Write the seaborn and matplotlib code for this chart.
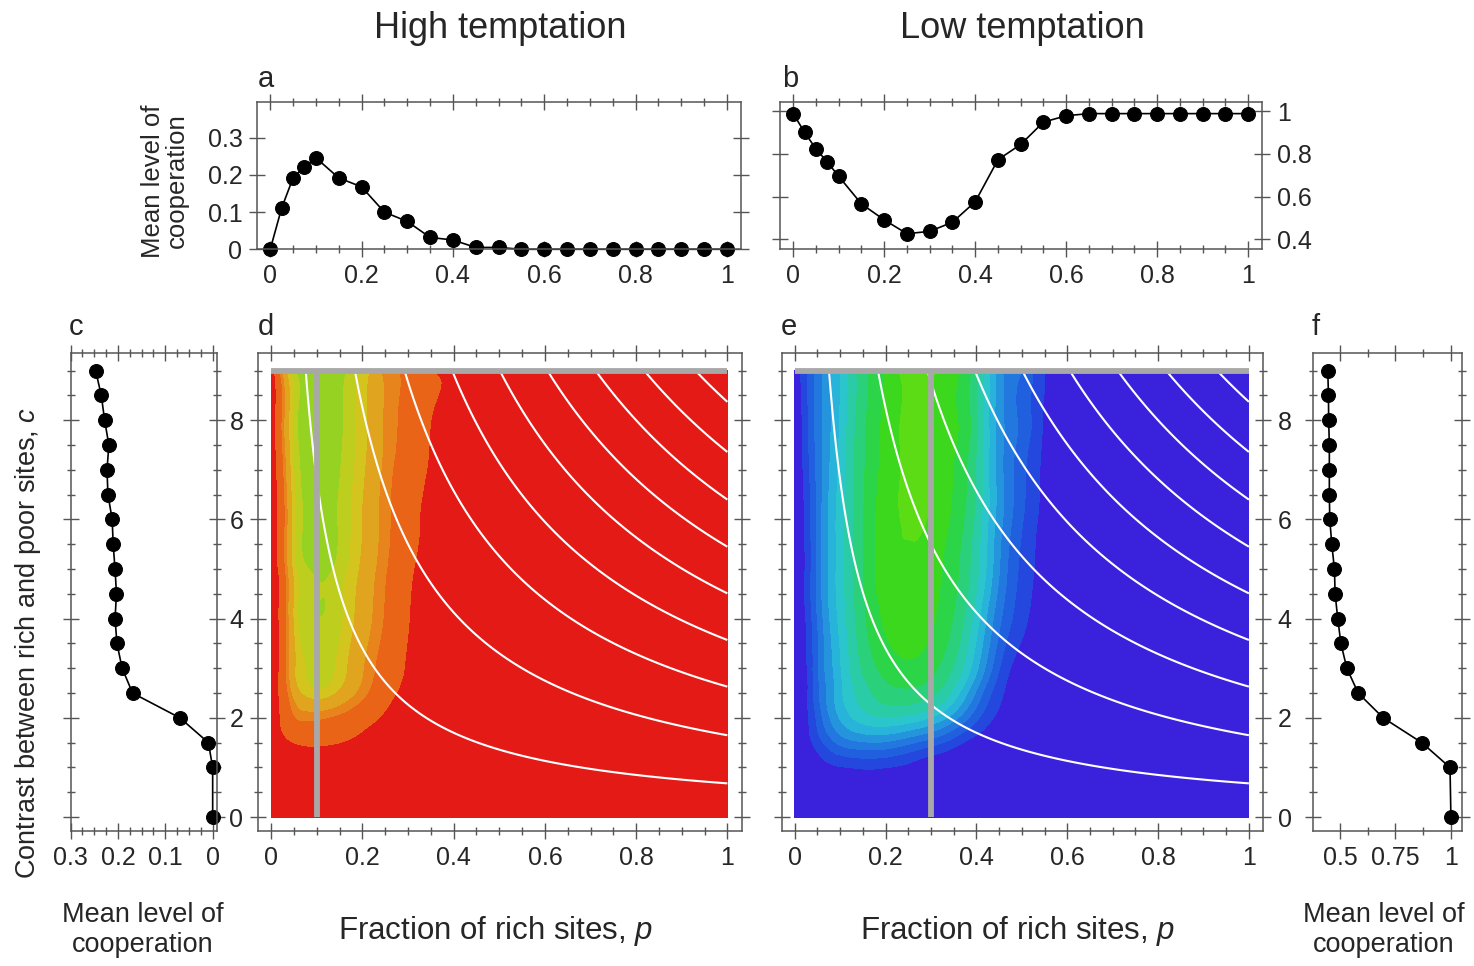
import numpy as np
import pandas as pd
import matplotlib
matplotlib.use("Agg")
import matplotlib.pyplot as plt
import matplotlib.tri as mtri
import seaborn as sns
from matplotlib.ticker import MultipleLocator, FixedLocator

# ------------------------------------------------------------------ data
# panel a / b : cooperation along the top transect (c = 9) versus p
p_top = [0, 0.025, 0.05, 0.075, 0.1, 0.15, 0.2, 0.25, 0.3, 0.35, 0.4, 0.45, 0.5,
         0.55, 0.6, 0.65, 0.7, 0.75, 0.8, 0.85, 0.9, 0.95, 1.0]
coop_a = [0, 0.111, 0.192, 0.222, 0.246, 0.192, 0.168, 0.100, 0.075, 0.032, 0.025,
          0.005, 0.005, 0, 0, 0, 0, 0, 0, 0, 0, 0, 0]
coop_b = [0.99, 0.902, 0.824, 0.762, 0.695, 0.565, 0.49, 0.425, 0.436, 0.479, 0.575,
          0.773, 0.845, 0.95, 0.98, 0.99, 0.99, 0.99, 0.99, 0.99, 0.99, 0.99, 0.99]

# panel c / f : cooperation along the vertical transect versus contrast c
c_side = [9, 8.5, 8, 7.5, 7, 6.5, 6, 5.5, 5, 4.5, 4, 3.5, 3, 2.5, 2, 1.5, 1, 0]
coop_c = [0.247, 0.235, 0.228, 0.219, 0.223, 0.221, 0.212, 0.210, 0.206, 0.203,
          0.206, 0.202, 0.191, 0.169, 0.069, 0.009, 0.0, 0.0]
coop_f = [0.445, 0.448, 0.449, 0.452, 0.452, 0.452, 0.454, 0.463, 0.475, 0.478,
          0.49, 0.504, 0.531, 0.582, 0.695, 0.869, 0.996, 1.0]

# transects (grey lines)
transect_c = 9.0
transect_p_d = 0.1
transect_p_e = 0.3

# panel d field (high temptation): rows = c, columns = p
field_p_d = [0, 0.025, 0.05, 0.075, 0.1, 0.15, 0.2, 0.25, 0.3, 0.35, 0.4, 0.45, 0.5, 0.6, 1.0]
field_c_d = [0, 1, 1.5, 2, 2.5, 3, 4, 5, 6, 7, 8, 9]
coop_field_d = [
    [0, 0, 0, 0, 0, 0, 0, 0, 0, 0, 0, 0, 0, 0, 0],
    [0, 0, 0, 0, 0, 0, 0, 0, 0, 0, 0, 0, 0, 0, 0],
    [0, 0.018, 0.030, 0.036, 0.036, 0.030, 0.018, 0.004, 0, 0, 0, 0, 0, 0, 0],
    [0, 0.040, 0.080, 0.092, 0.090, 0.075, 0.050, 0.022, 0.004, 0, 0, 0, 0, 0, 0],
    [0, 0.050, 0.120, 0.155, 0.165, 0.140, 0.095, 0.048, 0.016, 0, 0, 0, 0, 0, 0],
    [0, 0.052, 0.140, 0.175, 0.186, 0.165, 0.112, 0.064, 0.024, 0.002, 0, 0, 0, 0, 0],
    [0, 0.055, 0.150, 0.188, 0.198, 0.180, 0.130, 0.080, 0.032, 0.006, 0, 0, 0, 0, 0],
    [0, 0.060, 0.155, 0.195, 0.205, 0.188, 0.140, 0.088, 0.040, 0.010, 0.001, 0, 0, 0, 0],
    [0, 0.065, 0.160, 0.202, 0.212, 0.195, 0.148, 0.095, 0.050, 0.016, 0.004, 0, 0, 0, 0],
    [0, 0.075, 0.170, 0.210, 0.218, 0.200, 0.155, 0.100, 0.060, 0.024, 0.008, 0.002, 0, 0, 0],
    [0, 0.090, 0.180, 0.215, 0.228, 0.205, 0.160, 0.105, 0.068, 0.030, 0.016, 0.004, 0.002, 0, 0],
    [0, 0.111, 0.192, 0.222, 0.246, 0.210, 0.168, 0.100, 0.075, 0.032, 0.025, 0.005, 0.005, 0, 0],
]

# panel e field (low temptation): rows = c, columns = p
field_p_e = [0, 0.025, 0.05, 0.075, 0.1, 0.15, 0.2, 0.25, 0.3, 0.35, 0.4, 0.45, 0.5, 0.55, 0.6, 0.7, 1.0]
field_c_e = [0, 0.5, 1, 1.5, 2, 2.5, 3, 4, 5, 6, 7, 8, 9]
coop_field_e = [
    [1, 1, 1, 1, 1, 1, 1, 1, 1, 1, 1, 1, 1, 1, 1, 1, 1],
    [1, 1, 1, 1, 1, 1, 1, 1, 1, 1, 1, 1, 1, 1, 1, 1, 1],
    [1, 0.99, 0.98, 0.96, 0.95, 0.94, 0.945, 0.96, 0.985, 0.995, 1, 1, 1, 1, 1, 1, 1],
    [1, 0.97, 0.92, 0.87, 0.83, 0.80, 0.80, 0.83, 0.869, 0.92, 0.97, 0.99, 1, 1, 1, 1, 1],
    [1, 0.96, 0.88, 0.80, 0.74, 0.67, 0.65, 0.66, 0.695, 0.77, 0.88, 0.96, 0.99, 1, 1, 1, 1],
    [1, 0.955, 0.86, 0.78, 0.71, 0.62, 0.57, 0.56, 0.582, 0.66, 0.80, 0.93, 0.985, 1, 1, 1, 1],
    [1, 0.95, 0.85, 0.77, 0.70, 0.59, 0.53, 0.51, 0.531, 0.60, 0.73, 0.89, 0.975, 0.995, 1, 1, 1],
    [1, 0.94, 0.84, 0.75, 0.68, 0.56, 0.49, 0.47, 0.49, 0.55, 0.67, 0.83, 0.93, 0.98, 1, 1, 1],
    [1, 0.935, 0.83, 0.74, 0.67, 0.55, 0.47, 0.455, 0.475, 0.53, 0.63, 0.79, 0.91, 0.97, 0.995, 1, 1],
    [1, 0.93, 0.83, 0.74, 0.67, 0.55, 0.47, 0.445, 0.454, 0.51, 0.61, 0.77, 0.89, 0.965, 0.99, 1, 1],
    [1, 0.92, 0.83, 0.75, 0.68, 0.555, 0.48, 0.44, 0.452, 0.50, 0.60, 0.77, 0.88, 0.96, 0.99, 1, 1],
    [1, 0.91, 0.825, 0.76, 0.69, 0.56, 0.485, 0.435, 0.449, 0.49, 0.585, 0.77, 0.86, 0.955, 0.985, 1, 1],
    [0.99, 0.902, 0.824, 0.762, 0.695, 0.565, 0.49, 0.425, 0.436, 0.479, 0.575, 0.773, 0.845, 0.95, 0.98, 0.99, 0.99],
]

# iso-lines of mean resource level p*c (white curves)
resource_levels = [0.68, 1.65, 2.63, 3.57, 4.51, 5.45, 6.40, 7.36, 8.37]

# colour bands
levels_d = [-1.0, 0.03, 0.085, 0.11, 0.15, 0.175, 0.2, 1.0]
colors_d = ["#E41A17", "#EA6418", "#E8841C", "#E0A41E", "#D4C41E", "#BECE1E", "#96D222"]
levels_e = [-1.0, 0.45, 0.5, 0.55, 0.6, 0.65, 0.7, 0.75, 0.8, 0.85, 0.9, 0.95, 2.0]
colors_e = ["#5CDC14", "#3CD81E", "#2CD448", "#2AD07A", "#2ACCA8", "#2AC6CC",
            "#28B4DA", "#2494DC", "#2278DE", "#2060DE", "#2448DE", "#3A22DC"]

# ------------------------------------------------------------------ style
sns.set_style("ticks")
plt.rcParams["font.family"] = ["Liberation Sans", "DejaVu Sans"]
plt.rcParams["mathtext.fontset"] = "custom"
plt.rcParams["mathtext.it"] = "Liberation Sans:italic"
plt.rcParams["mathtext.rm"] = "Liberation Sans"
SPINE = "#555555"
TICKFS = 18

W, H = 1474, 966
fig = plt.figure(figsize=(W / 100, H / 100), dpi=100)


def rect(l, t, r, b):
    return [l / W, 1 - b / H, (r - l) / W, (b - t) / H]


ax_a = fig.add_axes(rect(257, 101.7, 741, 249.3))
ax_b = fig.add_axes(rect(780, 101.5, 1262.3, 249))
ax_c = fig.add_axes(rect(70.5, 353, 216.7, 831))
ax_d = fig.add_axes(rect(258, 353, 741.5, 831))
ax_e = fig.add_axes(rect(781.5, 353, 1263, 831))
ax_f = fig.add_axes(rect(1312.7, 353, 1462, 831))


def style(ax):
    for s in ax.spines.values():
        s.set_color(SPINE)
        s.set_linewidth(1.1)
    ax.tick_params(which="both", direction="inout", top=True, right=True, left=True,
                   bottom=True, color=SPINE, width=1.0, labelsize=TICKFS, pad=5)
    ax.tick_params(which="major", length=11)
    ax.tick_params(which="minor", length=6)
    ax.set_xlabel("")
    ax.set_ylabel("")


line_kw = dict(color="black", marker="o", markersize=10, markeredgecolor="black",
               linewidth=1.2, estimator=None, sort=False, clip_on=False)

# ---- panel a
df_a = pd.DataFrame({"p": p_top, "coop": coop_a})
sns.lineplot(data=df_a, x="p", y="coop", ax=ax_a, **line_kw)
ax_a.set_xlim(-0.029, 1.031)
ax_a.set_ylim(0, 0.397)
ax_a.xaxis.set_major_locator(FixedLocator([0, 0.2, 0.4, 0.6, 0.8, 1.0]))
ax_a.xaxis.set_minor_locator(MultipleLocator(0.05))
ax_a.yaxis.set_major_locator(FixedLocator([0, 0.1, 0.2, 0.3]))
ax_a.set_xticklabels(["0", "0.2", "0.4", "0.6", "0.8", "1"])
ax_a.set_yticklabels(["0", "0.1", "0.2", "0.3"])
style(ax_a)

# ---- panel b
df_b = pd.DataFrame({"p": p_top, "coop": coop_b})
sns.lineplot(data=df_b, x="p", y="coop", ax=ax_b, **line_kw)
ax_b.set_xlim(-0.029, 1.031)
ax_b.set_ylim(0.353, 1.047)
ax_b.xaxis.set_major_locator(FixedLocator([0, 0.2, 0.4, 0.6, 0.8, 1.0]))
ax_b.xaxis.set_minor_locator(MultipleLocator(0.05))
ax_b.yaxis.set_major_locator(FixedLocator([0.4, 0.6, 0.8, 1.0]))
ax_b.set_xticklabels(["0", "0.2", "0.4", "0.6", "0.8", "1"])
ax_b.set_yticklabels(["0.4", "0.6", "0.8", "1"])
style(ax_b)
ax_b.tick_params(axis="y", labelleft=False, labelright=True)

# ---- panel c
df_c = pd.DataFrame({"c": c_side, "coop": coop_c})
sns.lineplot(data=df_c, x="coop", y="c", ax=ax_c, **line_kw)
ax_c.set_xlim(0.3, -0.0085)
ax_c.set_ylim(-0.28, 9.355)
ax_c.xaxis.set_major_locator(FixedLocator([0.3, 0.2, 0.1, 0]))
ax_c.xaxis.set_minor_locator(MultipleLocator(0.025))
ax_c.set_xticklabels(["0.3", "0.2", "0.1", "0"])
ax_c.yaxis.set_major_locator(MultipleLocator(2))
ax_c.yaxis.set_minor_locator(MultipleLocator(0.5))
style(ax_c)
ax_c.tick_params(axis="y", labelleft=False)

# ---- panel f
df_f = pd.DataFrame({"c": c_side, "coop": coop_f})
sns.lineplot(data=df_f, x="coop", y="c", ax=ax_f, **line_kw)
ax_f.set_xlim(0.377, 1.05)
ax_f.set_ylim(-0.28, 9.355)
ax_f.xaxis.set_major_locator(FixedLocator([0.5, 0.75, 1.0]))
ax_f.xaxis.set_minor_locator(MultipleLocator(0.125))
ax_f.set_xticklabels(["0.5", "0.75", "1"])
ax_f.yaxis.set_major_locator(MultipleLocator(2))
ax_f.yaxis.set_minor_locator(MultipleLocator(0.5))
style(ax_f)
ax_f.tick_params(axis="y", labelleft=False)


# ---- panels d, e (contour maps)
def field_panel(ax, fp, fc, z, levels, colors, p_line, label_side):
    P, C = np.meshgrid(fp, fc)
    cmax = max(fc)
    # triangulate in normalised coordinates, smooth with matplotlib's refiner
    tri = mtri.Triangulation(P.ravel(), C.ravel() / cmax)
    refiner = mtri.UniformTriRefiner(tri)
    tri_r, z_r = refiner.refine_field(np.array(z, dtype=float).ravel(), subdiv=4)
    tri_plot = mtri.Triangulation(tri_r.x, tri_r.y * cmax, tri_r.triangles)
    ax.tricontourf(tri_plot, z_r, levels=levels, colors=colors, zorder=1)
    pp = np.linspace(min(fp) + 1e-3, max(fp), 500)
    cc = np.linspace(min(fc), max(fc), 500)
    PP, CC = np.meshgrid(pp, cc)
    ax.contour(PP, CC, PP * CC, levels=resource_levels, colors="white",
               linewidths=1.5, zorder=3)
    ax.vlines(p_line, min(fc), max(fc), color="#A8A8A8", lw=4.2, zorder=5)
    ax.hlines(transect_c, min(fp), max(fp), color="#A8A8A8", lw=4.2, zorder=5)
    ax.set_xlim(-0.029, 1.031)
    ax.set_ylim(-0.28, 9.355)
    ax.xaxis.set_major_locator(FixedLocator([0, 0.2, 0.4, 0.6, 0.8, 1.0]))
    ax.xaxis.set_minor_locator(MultipleLocator(0.05))
    ax.set_xticklabels(["0", "0.2", "0.4", "0.6", "0.8", "1"])
    ax.yaxis.set_major_locator(FixedLocator([0, 2, 4, 6, 8]))
    ax.yaxis.set_minor_locator(MultipleLocator(0.5))
    ax.set_yticklabels(["0", "2", "4", "6", "8"])
    style(ax)
    if label_side == "right":
        ax.tick_params(axis="y", labelleft=False, labelright=True)


field_panel(ax_d, field_p_d, field_c_d, coop_field_d, levels_d, colors_d, transect_p_d, "left")
field_panel(ax_e, field_p_e, field_c_e, coop_field_e, levels_e, colors_e, transect_p_e, "right")

# ------------------------------------------------------------------ texts
def ftext(x, y, s, **kw):
    fig.text(x / W, 1 - y / H, s, ha="center", va="center", **kw)


ftext(500, 28, "High temptation", fontsize=26)
ftext(1022, 28, "Low temptation", fontsize=26)
for lab, x, y in [("a", 266, 79), ("b", 790, 79), ("c", 76, 327), ("d", 266, 327),
                  ("e", 789, 327), ("f", 1316, 327)]:
    ftext(x, y, lab, fontsize=21)

ftext(496, 931, "Fraction of rich sites, $p$", fontsize=22.5)
ftext(1018, 931, "Fraction of rich sites, $p$", fontsize=22.5)
ftext(143, 930, "Mean level of\ncooperation", fontsize=19.5, linespacing=1.25)
ftext(1384, 930, "Mean level of\ncooperation", fontsize=19.5, linespacing=1.25)
ftext(165, 181, "Mean level of\ncooperation", fontsize=18.5, rotation=90, linespacing=1.0)
ftext(28, 643, "Contrast between rich and poor sites, $c$", fontsize=19.5, rotation=90)

fig.savefig("out.png", dpi=100)
